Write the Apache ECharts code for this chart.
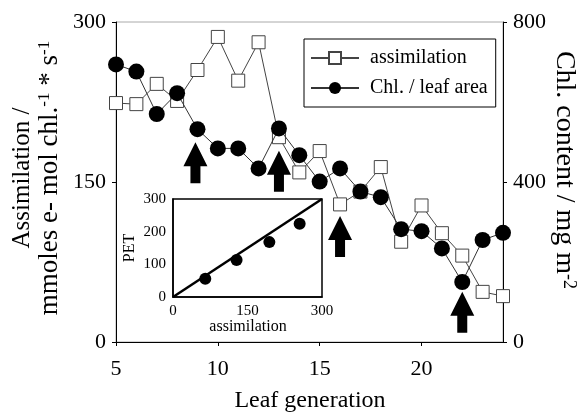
<!DOCTYPE html>
<html>
<head>
<meta charset="utf-8">
<script src="https://cdn.jsdelivr.net/npm/echarts@6/dist/echarts.min.js"></script>
<style>
html, body { margin: 0; padding: 0; background: #fff; }
#main { width: 578px; height: 416px; }
</style>
</head>
<body>
<div id="main"></div>
<script>
var leaf = [5, 6, 7, 8, 9, 10, 11, 12, 13, 14, 15, 16, 17, 18, 19, 20, 21, 22, 23, 24];
var assimilation = [224, 223, 242, 226, 255, 286, 245, 281, 192, 159, 179, 129, 141, 164, 94, 128, 102, 81, 47, 43];
var chlArea = [694, 676, 570, 622, 532, 484, 484, 434, 534, 467, 401, 434, 376, 362, 282, 277, 234, 150, 255, 273];

// arrows marking leaves (x = leaf generation, y = centre on left axis)
var arrowX = [8.9, 13, 16, 22];
var arrowY = [168, 160, 99, 28];

// inset: PET vs assimilation
var insetAssim = [65, 128, 194, 255];
var insetPet = [56, 113, 168, 224];
var insetLine = [[0, 0], [300, 300]];

var font = '"Liberation Serif", "Times New Roman", serif';

function pairs(xs, ys) {
    return xs.map(function (x, i) { return [x, ys[i]]; });
}

var myChart = echarts.init(document.getElementById('main'));
var option = {
    animation: false,
    backgroundColor: '#fff',
    textStyle: { fontFamily: font, color: '#000' },
    legend: {
        left: 304,
        top: 39,
        orient: 'vertical',
        borderColor: '#000',
        borderWidth: 1,
        padding: [9, 8, 9, 6],
        itemGap: 10,
        itemWidth: 48,
        itemHeight: 15,
        textStyle: { fontFamily: font, fontSize: 20, color: '#000', padding: [0, 0, 0, 6] },
        data: ['assimilation', 'Chl. / leaf area']
    },
    grid: [
        { left: 116, right: 75, top: 22, bottom: 74, show: true, borderColor: '#aaa', borderWidth: 1 },
        { left: 173, top: 199, width: 149, height: 98, show: true, borderColor: '#000', borderWidth: 1.5, backgroundColor: '#fff', z: 5 }
    ],
    xAxis: [
        {
            type: 'value', gridIndex: 0, min: 5, max: 24, interval: 5,
            axisLine: { lineStyle: { color: '#000', width: 1 } },
            axisTick: { show: true, length: 4, lineStyle: { color: '#000' } },
            axisLabel: { fontFamily: font, fontSize: 22, color: '#000', margin: 16, showMaxLabel: false },
            splitLine: { show: false }
        },
        {
            type: 'value', gridIndex: 1, min: 0, max: 300, interval: 150, z: 6,
            axisLine: { lineStyle: { color: '#000', width: 1.5 } },
            axisTick: { show: false },
            axisLabel: { fontFamily: font, fontSize: 15, color: '#000', margin: 7 },
            splitLine: { show: false }
        }
    ],
    yAxis: [
        {
            type: 'value', gridIndex: 0, min: 0, max: 300, interval: 150,
            axisLine: { show: true, lineStyle: { color: '#000', width: 1 } },
            axisTick: { show: true, length: 4, lineStyle: { color: '#000' } },
            axisLabel: { fontFamily: font, fontSize: 22, color: '#000', margin: 10 },
            splitLine: { show: false }
        },
        {
            type: 'value', gridIndex: 0, position: 'right', min: 0, max: 800, interval: 400,
            axisLine: { show: true, lineStyle: { color: '#000', width: 1 } },
            axisTick: { show: true, length: 4, lineStyle: { color: '#000' } },
            axisLabel: { fontFamily: font, fontSize: 22, color: '#000', margin: 10 },
            splitLine: { show: false }
        },
        {
            type: 'value', gridIndex: 1, min: 0, max: 300, interval: 100, z: 6,
            axisLine: { show: true, lineStyle: { color: '#000', width: 1.5 } },
            axisTick: { show: false },
            axisLabel: { fontFamily: font, fontSize: 15, color: '#000', margin: 7 },
            splitLine: { show: false }
        }
    ],
    series: [
        {
            name: 'assimilation',
            type: 'line',
            xAxisIndex: 0, yAxisIndex: 0,
            data: pairs(leaf, assimilation),
            symbol: 'rect',
            symbolSize: 13,
            lineStyle: { color: '#444', width: 1 },
            itemStyle: { color: '#fff', borderColor: '#444', borderWidth: 1, opacity: 1 },
            z: 2
        },
        {
            name: 'Chl. / leaf area',
            type: 'line',
            xAxisIndex: 0, yAxisIndex: 1,
            data: pairs(leaf, chlArea),
            symbol: 'circle',
            symbolSize: 16,
            lineStyle: { color: '#333', width: 1 },
            itemStyle: { color: '#000', borderColor: '#000', borderWidth: 0, opacity: 1 },
            z: 3
        },
        {
            name: 'arrows',
            type: 'scatter',
            xAxisIndex: 0, yAxisIndex: 0,
            data: pairs(arrowX, arrowY),
            symbol: 'path://M12,0 L24,24 L17,24 L17,41 L7,41 L7,24 L0,24 Z',
            symbolSize: [24, 41],
            itemStyle: { color: '#000', opacity: 1 },
            z: 4
        },
        {
            name: 'fit',
            type: 'line',
            xAxisIndex: 1, yAxisIndex: 2,
            data: insetLine,
            symbol: 'none',
            lineStyle: { color: '#000', width: 2.5 },
            z: 7
        },
        {
            name: 'PET',
            type: 'scatter',
            xAxisIndex: 1, yAxisIndex: 2,
            data: pairs(insetAssim, insetPet),
            symbol: 'circle',
            symbolSize: 12,
            itemStyle: { color: '#000', opacity: 1 },
            z: 7
        }
    ],
    graphic: [
        {
            type: 'text', x: 22, y: 178, rotation: Math.PI / 2,
            style: { text: 'Assimilation /', font: '25px ' + font, fill: '#000', align: 'center', verticalAlign: 'middle' }
        },
        {
            type: 'text', x: 50, y: 178, rotation: Math.PI / 2,
            style: {
                text: '{n|mmoles e- mol chl.}{s|-1}{n| * s}{s|-1}',
                align: 'center', verticalAlign: 'middle',
                rich: {
                    n: { font: '27px ' + font, fill: '#000' },
                    s: { font: '17px ' + font, fill: '#000', verticalAlign: 'top' }
                }
            }
        },
        {
            type: 'text', x: 564, y: 170, rotation: -Math.PI / 2,
            style: {
                text: '{n|Chl. content / mg m}{s|-2}',
                align: 'center', verticalAlign: 'middle',
                rich: {
                    n: { font: '28px ' + font, fill: '#000' },
                    s: { font: '18px ' + font, fill: '#000', verticalAlign: 'top' }
                }
            }
        },
        {
            type: 'text', x: 310, y: 401,
            style: { text: 'Leaf generation', font: '24px ' + font, fill: '#000', align: 'center', verticalAlign: 'middle' }
        },
        {
            type: 'text', x: 130, y: 248, rotation: Math.PI / 2, z: 10,
            style: { text: 'PET', font: '16px ' + font, fill: '#000', align: 'center', verticalAlign: 'middle' }
        },
        {
            type: 'text', x: 248, y: 327, z: 10,
            style: { text: 'assimilation', font: '16px ' + font, fill: '#000', align: 'center', verticalAlign: 'middle' }
        }
    ]
};
myChart.setOption(option);
</script>
</body>
</html>
